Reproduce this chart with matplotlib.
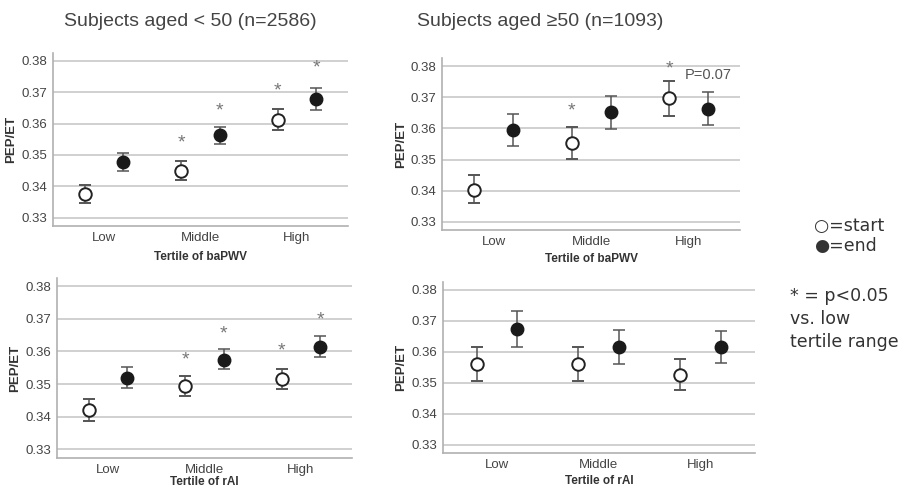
import matplotlib.pyplot as plt
from matplotlib import font_manager
import numpy as np

tertiles = ['Low', 'Middle', 'High']
titles = ['Subjects aged < 50 (n=2586)', 'Subjects aged \u226550 (n=1093)']
xlabels = ['Tertile of baPWV', 'Tertile of rAI']

# panel order: young/baPWV, old/baPWV, young/rAI, old/rAI
start_mean = [[0.3375, 0.3450, 0.3612], [0.3402, 0.3553, 0.3697],
              [0.3420, 0.3494, 0.3516], [0.3559, 0.3560, 0.3526]]
start_lo = [[0.3347, 0.3420, 0.3580], [0.3359, 0.3502, 0.3639],
            [0.3388, 0.3464, 0.3486], [0.3504, 0.3506, 0.3477]]
start_hi = [[0.3405, 0.3480, 0.3648], [0.3451, 0.3604, 0.3753],
            [0.3453, 0.3525, 0.3547], [0.3616, 0.3616, 0.3575]]
end_mean = [[0.3478, 0.3563, 0.3677], [0.3594, 0.3652, 0.3663],
            [0.3519, 0.3575, 0.3615], [0.3673, 0.3615, 0.3616]]
end_lo = [[0.3450, 0.3535, 0.3642], [0.3542, 0.3598, 0.3610],
          [0.3487, 0.3545, 0.3583], [0.3616, 0.3560, 0.3565]]
end_hi = [[0.3505, 0.3590, 0.3713], [0.3647, 0.3705, 0.3717],
          [0.3552, 0.3608, 0.3647], [0.3730, 0.3669, 0.3668]]

# asterisk heights (None = no mark)
start_star = [[None, 0.3538, 0.3705], [None, 0.3655, 0.3791],
              [None, 0.3575, 0.3600], [None, None, None]]
end_star = [[None, 0.3640, 0.3779], [None, None, None],
            [None, 0.3655, 0.3696], [None, None, None]]

yticks = [0.33, 0.34, 0.35, 0.36, 0.37, 0.38]

names = {f.name for f in font_manager.fontManager.ttflist}
narrow = 'Liberation Sans Narrow' if 'Liberation Sans Narrow' in names else 'Liberation Sans'
plt.rcParams['font.family'] = ['Liberation Sans', 'DejaVu Sans']

fig = plt.figure(figsize=(9.06, 4.94), dpi=100)
boxes = [[0.0585, 0.5425, 0.3256, 0.350],
         [0.488, 0.534, 0.329, 0.348],
         [0.0629, 0.0729, 0.3256, 0.364],
         [0.489, 0.0830, 0.344, 0.346]]
xlpad = [5, 4, 0, 3]

gray = '#555555'
x = np.arange(3)
off = 0.2
for i, box in enumerate(boxes):
    ax = fig.add_axes(box)
    for y in yticks:
        ax.axhline(y, color='#c8c8c8', lw=1.2, zorder=0)
    s = np.array(start_mean[i])
    e = np.array(end_mean[i])
    ax.errorbar(x - off, s, yerr=[s - np.array(start_lo[i]), np.array(start_hi[i]) - s],
                fmt='o', mfc='white', mec='#222222', mew=1.4, ms=9,
                ecolor=gray, elinewidth=1.1, capsize=4.5, capthick=1.1)
    ax.errorbar(x + off, e, yerr=[e - np.array(end_lo[i]), np.array(end_hi[i]) - e],
                fmt='o', mfc='#1a1a1a', mec='#1a1a1a', ms=9,
                ecolor=gray, elinewidth=1.1, capsize=4.5, capthick=1.1)
    for j in range(3):
        if start_star[i][j] is not None:
            ax.text(x[j] - off, start_star[i][j], '*', ha='center', va='center',
                    fontsize=14, color='#777777')
        if end_star[i][j] is not None:
            ax.text(x[j] + off, end_star[i][j], '*', ha='center', va='center',
                    fontsize=14, color='#777777')
    if i == 1:
        ax.text(x[2] + off, 0.3770, 'P=0.07', ha='center', va='center',
                fontsize=10.5, color='#555555', family=narrow)
    ax.set_xlim(-0.53, 2.53)
    ax.set_ylim(0.3273, 0.3825)
    ax.set_yticks(yticks)
    ax.set_yticklabels(['%.2f' % v for v in yticks], family=narrow)
    ax.set_xticks(x)
    ax.set_xticklabels(tertiles, family=narrow)
    ax.tick_params(length=0, labelsize=9.5, labelcolor='#444444', pad=4)
    for sp in ['top', 'right']:
        ax.spines[sp].set_visible(False)
    for sp in ['left', 'bottom']:
        ax.spines[sp].set_color('#b0b0b0')
        ax.spines[sp].set_linewidth(1.2)
    ax.set_ylabel('PEP/ET', fontsize=9.5, fontweight='bold', color='#333333', labelpad=3)
    ax.set_xlabel(xlabels[i // 2], fontsize=8.5, fontweight='bold', color='#333333',
                  labelpad=xlpad[i])

fig.text(0.071, 0.956, titles[0], fontsize=14, color='#444444', va='center', family=narrow)
fig.text(0.460, 0.956, titles[1], fontsize=14, color='#444444', va='center', family=narrow)

fig.text(0.899, 0.543, '\u25cb=start', fontsize=12.5, color='#333333', va='center',
         family=['DejaVu Sans'])
fig.text(0.899, 0.503, '\u25cf=end', fontsize=12.5, color='#333333', va='center',
         family=['DejaVu Sans'])
fig.text(0.872, 0.354, '* = p<0.05\nvs. low\ntertile range', fontsize=12.5,
         color='#333333', va='center', linespacing=1.35, family=['DejaVu Sans'])

fig.savefig('out.png', dpi=100)
